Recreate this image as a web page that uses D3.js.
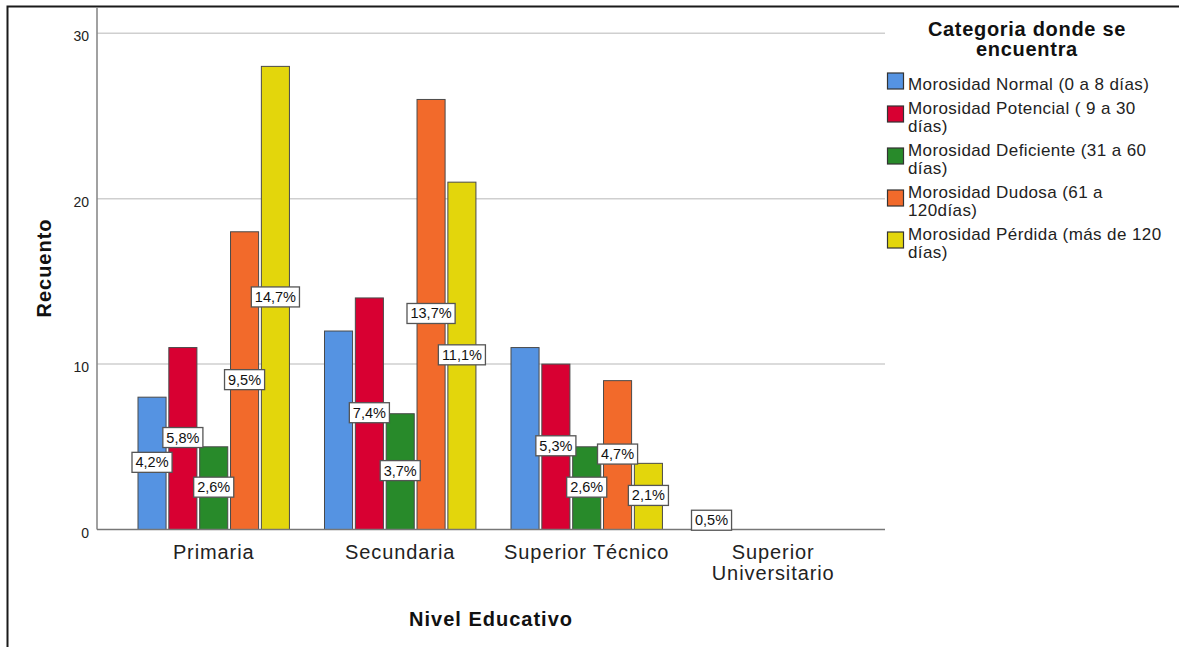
<!DOCTYPE html>
<html>
<head>
<meta charset="utf-8">
<script src="https://cdn.jsdelivr.net/npm/d3@7"></script>
<style>
  html, body { margin: 0; padding: 0; background: #fff; }
  svg { display: block; font-family: "Liberation Sans", Arial, sans-serif; }
</style>
</head>
<body>
<svg id="chart" width="1179" height="647"></svg>
<script>
// Education level groups on the x axis
const categories = ["Primaria", "Secundaria", "Superior Técnico", "Superior Universitario"];

// Delinquency categories (legend series)
const seriesNames = [
  "Morosidad Normal (0 a 8 días)",
  "Morosidad Potencial ( 9 a 30 días)",
  "Morosidad Deficiente (31 a 60 días)",
  "Morosidad Dudosa (61 a 120días)",
  "Morosidad Pérdida (más de 120 días)"
];
const seriesColors = ["#5593e2", "#d80032", "#288a2a", "#f26a2b", "#e3d60c"];

// Counts per series, one value per education level
const normal     = [8, 12, 11, 1];
const potencial  = [11, 14, 10, 0];
const deficiente = [5, 7, 5, 0];
const dudosa     = [18, 26, 9, 0];
const perdida    = [28, 21, 4, 0];
const seriesValues = [normal, potencial, deficiente, dudosa, perdida];

const yTicks = [0, 10, 20, 30];

const svg = d3.select("#chart");
const W = 1179, H = 647;
const plot = { left: 97, right: 885, top: 33.3, bottom: 529.5 };

const total = d3.sum(seriesValues.flat());
const pct = v => (v / total * 100).toFixed(1).replace(".", ",") + "%";

// Outer frame (top and left edges)
svg.append("path")
  .attr("d", `M7.5,${H} V6.5 H${W}`)
  .attr("fill", "none").attr("stroke", "#1a1a1a").attr("stroke-width", 2);

const y = d3.scaleLinear().domain([0, 30]).range([plot.bottom, plot.top]);
const x0 = d3.scaleBand().domain(categories).range([plot.left, plot.right])
  .paddingInner(0.188).paddingOuter(0.2066).align(0.532);
const x1 = d3.scaleBand().domain(d3.range(seriesNames.length)).range([0, x0.bandwidth()])
  .paddingInner(0.09);

// Grid lines
svg.append("g").selectAll("line").data(yTicks.filter(t => t > 0)).join("line")
  .attr("x1", plot.left).attr("x2", plot.right)
  .attr("y1", d => y(d)).attr("y2", d => y(d))
  .attr("stroke", "#cfcfcf").attr("stroke-width", 1.5);

// Y axis line
svg.append("line")
  .attr("x1", plot.left).attr("x2", plot.left)
  .attr("y1", 7).attr("y2", plot.bottom)
  .attr("stroke", "#8a8a8a").attr("stroke-width", 1.6);

// Y tick labels
svg.append("g").selectAll("text").data(yTicks).join("text")
  .attr("x", 89).attr("y", d => y(d) + 8)
  .attr("text-anchor", "end").attr("font-size", 14).attr("fill", "#222")
  .text(d => d);

// Bars
const barData = [];
categories.forEach((c, ci) => {
  seriesValues.forEach((vals, si) => {
    barData.push({ cat: c, ci, si, value: vals[ci] });
  });
});

svg.append("g").selectAll("rect").data(barData.filter(d => d.value > 0)).join("rect")
  .attr("x", d => x0(d.cat) + x1(d.si))
  .attr("width", x1.bandwidth())
  .attr("y", d => y(d.value))
  .attr("height", d => y(0) - y(d.value))
  .attr("fill", d => seriesColors[d.si])
  .attr("stroke", "#4a4a4a").attr("stroke-width", 1);

// Baseline
svg.append("line")
  .attr("x1", plot.left).attr("x2", plot.right)
  .attr("y1", y(0)).attr("y2", y(0))
  .attr("stroke", "#777").attr("stroke-width", 1.5);

// Percentage labels centred in each bar; labels that would collide are dropped
const labelLayer = svg.append("g");
const placed = [];
const boxH = 20;
categories.forEach((c, ci) => {
  for (let si = seriesNames.length - 1; si >= 0; si--) {
    const v = seriesValues[si][ci];
    if (v <= 0) continue;
    const cx = x0(c) + x1(si) + x1.bandwidth() / 2;
    const cy = y(v / 2) - 1;
    const g = labelLayer.append("g");
    const t = g.append("text")
      .attr("x", cx).attr("y", cy + 5)
      .attr("text-anchor", "middle").attr("font-size", 14.5).attr("fill", "#111")
      .text(pct(v));
    const w = t.node().getComputedTextLength() + 7;
    const box = { x: cx - w / 2, y: cy - boxH / 2, w, h: boxH };
    const hit = placed.some(b =>
      box.x < b.x + b.w - 1 && b.x < box.x + box.w - 1 &&
      box.y < b.y + b.h - 1 && b.y < box.y + box.h - 1);
    if (hit) { g.remove(); continue; }
    placed.push(box);
    g.insert("rect", "text")
      .attr("x", box.x).attr("y", box.y).attr("width", box.w).attr("height", box.h)
      .attr("fill", "#fff").attr("stroke", "#555").attr("stroke-width", 1.3);
  }
});

// Word wrap helper for SVG text
function wrap(textSel, maxWidth, lineHeight) {
  textSel.each(function () {
    const text = d3.select(this);
    const words = text.text().split(/\s+/);
    const xAttr = text.attr("x");
    text.text(null);
    let line = [];
    let tspan = text.append("tspan").attr("x", xAttr).attr("dy", 0);
    let n = 0;
    words.forEach(word => {
      line.push(word);
      tspan.text(line.join(" "));
      if (tspan.node().getComputedTextLength() > maxWidth && line.length > 1) {
        line.pop();
        tspan.text(line.join(" "));
        line = [word];
        n++;
        tspan = text.append("tspan").attr("x", xAttr).attr("dy", lineHeight).text(word);
      }
    });
    text.attr("data-lines", n + 1);
  });
}

// Category labels
svg.append("g").selectAll("text").data(categories).join("text")
  .attr("x", d => x0(d) + x0.bandwidth() / 2)
  .attr("y", 559)
  .attr("text-anchor", "middle").attr("font-size", 20).attr("letter-spacing", 0.9)
  .attr("fill", "#222")
  .text(d => d)
  .call(wrap, x0.step(), 21);

// Axis titles
svg.append("text")
  .attr("x", (plot.left + plot.right) / 2).attr("y", 626)
  .attr("text-anchor", "middle").attr("font-size", 20).attr("font-weight", "bold")
  .attr("letter-spacing", 1.0).attr("fill", "#111")
  .text("Nivel Educativo");

svg.append("text")
  .attr("transform", "translate(51,268) rotate(-90)")
  .attr("text-anchor", "middle").attr("font-size", 20).attr("font-weight", "bold")
  .attr("letter-spacing", 1.0).attr("fill", "#111")
  .text("Recuento");

// Legend
const legend = svg.append("g");
legend.append("text")
  .attr("x", 1027).attr("y", 36)
  .attr("text-anchor", "middle").attr("font-size", 20).attr("font-weight", "bold")
  .attr("letter-spacing", 0.7).attr("fill", "#111")
  .selectAll("tspan").data(["Categoria donde se", "encuentra"]).join("tspan")
  .attr("x", 1027).attr("dy", (d, i) => i ? 20 : 0).text(d => d);

let lineCenter = 84;
seriesNames.forEach((name, i) => {
  const t = legend.append("text")
    .attr("x", 908).attr("y", lineCenter + 6)
    .attr("font-size", 17).attr("letter-spacing", 0.4).attr("fill", "#222")
    .text(name)
    .call(wrap, 262, 18);
  const lines = +t.attr("data-lines");
  const sc = lineCenter + (lines - 1) * 9 - 3;
  legend.append("rect")
    .attr("x", 887.5).attr("y", sc - 8).attr("width", 16).attr("height", 16)
    .attr("fill", seriesColors[i]).attr("stroke", "#333").attr("stroke-width", 1.2);
  lineCenter += (lines - 1) * 18 + 24;
});
</script>
</body>
</html>
